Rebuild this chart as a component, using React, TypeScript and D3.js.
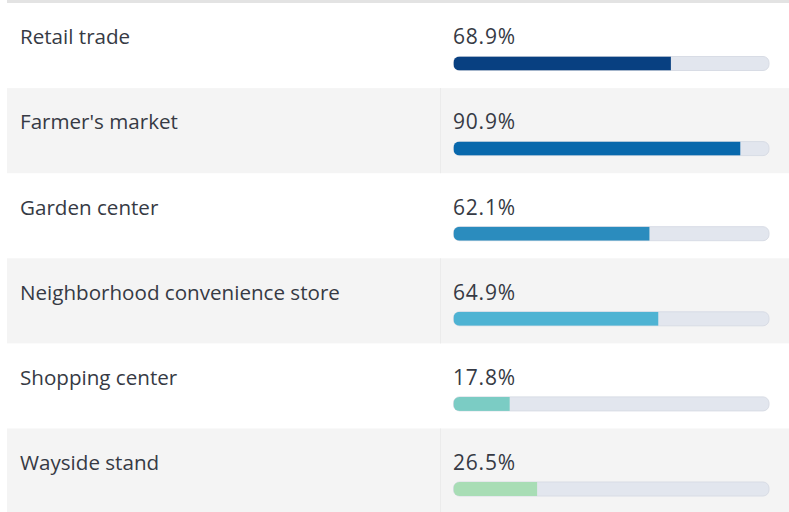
import React from "react";
import * as d3 from "d3";

const categories = [
  "Retail trade",
  "Farmer's market",
  "Garden center",
  "Neighborhood convenience store",
  "Shopping center",
  "Wayside stand",
];
const values = [68.9, 90.9, 62.1, 64.9, 17.8, 26.5];
const colors = ["#084081", "#0868ac", "#2b8cbe", "#4eb3d3", "#7bccc4", "#a8ddb5"];

const W = 789;
const H = 512;

export default function App() {
  const tableLeft = 7;
  const top = 3;
  const rowH = 85.1;
  const y = d3
    .scaleBand<number>()
    .domain(d3.range(categories.length))
    .range([top, top + rowH * categories.length])
    .paddingInner(0)
    .paddingOuter(0);
  const trackX0 = 453.5;
  const trackX1 = 769;
  const x = d3.scaleLinear().domain([0, 100]).range([trackX0, trackX1]);
  const barH = 14;
  const barOff = 53.5;
  const font = "'Open Sans', sans-serif";

  return (
    <svg
      width={W}
      height={H}
      style={{ position: "absolute", left: 0, top: 0, background: "#fff" }}
    >
      <rect x={tableLeft} y={0} width={W - tableLeft} height={top} fill="#e3e3e3" />
      {categories.map((c, i) => {
        const y0 = y(i) as number;
        const gray = i % 2 === 1;
        const by = y0 + barOff;
        const r = barH / 2 - 1;
        return (
          <g key={c}>
            {gray && (
              <rect x={tableLeft} y={y0} width={W - tableLeft} height={y.bandwidth()} fill="#f4f4f4" />
            )}
            {gray && (
              <line x1={440.5} x2={440.5} y1={y0} y2={y0 + y.bandwidth()} stroke="#ebebeb" strokeWidth={1} />
            )}
            <text x={20} y={y0 + 41.3} fontFamily={font} fontSize={20.6} fill="#363a44">
              {c}
            </text>
            <text
              x={453}
              y={y0 + 41.3}
              fontFamily={font}
              fontSize={21}
              letterSpacing={0.8}
              fill="#363a44"
            >
              {values[i].toFixed(1) + "%"}
            </text>
            <clipPath id={`clip${i}`}>
              <rect x={x(0)} y={by} width={x(100) - x(0)} height={barH} rx={r} ry={r} />
            </clipPath>
            <rect
              x={x(0)}
              y={by}
              width={x(100) - x(0)}
              height={barH}
              rx={r}
              ry={r}
              fill="#e2e6ee"
              stroke="#d8dce5"
              strokeWidth={1}
            />
            <rect
              x={x(0)}
              y={by}
              width={x(values[i]) - x(0)}
              height={barH}
              fill={colors[i]}
              clipPath={`url(#clip${i})`}
            />
          </g>
        );
      })}
    </svg>
  );
}
